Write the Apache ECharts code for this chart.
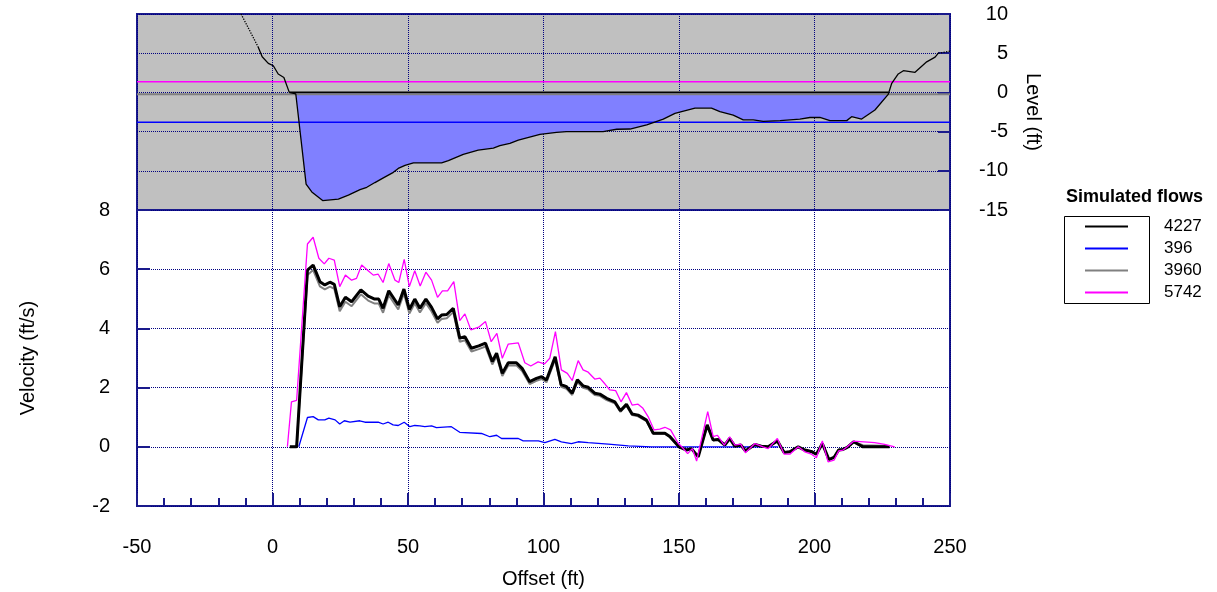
<!DOCTYPE html>
<html>
<head>
<meta charset="utf-8">
<script src="https://cdn.jsdelivr.net/npm/echarts@6/dist/echarts.min.js"></script>
<style>
  html, body { margin: 0; padding: 0; background: #fff; }
  #chart { width: 1217px; height: 592px; }
</style>
</head>
<body>
<div id="chart"></div>
<script>
// simulated flows (legend order)
let flowNames = ["4227", "396", "3960", "5742"];
let flowColors = ["#000000", "#0000ff", "#808080", "#ff00ff"];
// water surface level of each flow (ft)
let waterLevels = [0, -3.8, -0.25, 1.35];
// wetted edges for the 4227 water surface
let wetEdges = [6.2, 227.4];

// ground profile: banks and channel bed
let bankLeftDotX = [-11.6, -5.3];
let bankLeftDotY = [10, 5.8];
let bankLeftX = [-5.3, -3.8, -1.55, 0.3, 2.1, 4.2, 6.2];
let bankLeftY = [5.8, 4.55, 3.7, 3.4, 2.35, 1.9, 0.0];
let bedX = [6.2, 8.6, 12.4, 14.5, 18.5, 24.3, 28.0, 32.3, 34.8, 37.8, 40.9, 44.6, 46.4, 48.9, 52.0, 62.4, 64.9,
    70.4, 75.9, 81.5, 83.9, 87.6, 90.7, 98.7, 104.8, 108.5, 122.0, 127.0, 131.9, 138.1, 144.2, 148.5, 155.9,
    162.0, 165.1, 170.0, 173.7, 177.4, 181.1, 187.3, 194.6, 198.3, 202.0, 205.7, 211.9, 213.7, 217.4, 222.3,
    227.2, 227.4];
let bedY = [0.0, -0.2, -11.7, -12.7, -13.8, -13.6, -13.1, -12.4, -12.1, -11.5, -10.9, -10.2, -9.7, -9.3, -9.0, -9.0, -8.7,
    -7.9, -7.35, -7.1, -6.8, -6.5, -6.1, -5.35, -5.1, -5.0, -5.0, -4.7, -4.67, -4.15, -3.4, -2.67, -2.0,
    -2.0, -2.46, -2.9, -3.5, -3.5, -3.7, -3.6, -3.4, -3.2, -3.2, -3.6, -3.6, -3.1, -3.4, -2.25,
    -0.25, 0.0];
let bankRightX = [227.4, 228.5, 230.9, 232.8, 237.1, 241.4, 244.5, 245.7];
let bankRightY = [0.0, 1.16, 2.35, 2.77, 2.56, 3.9, 4.5, 5.0];
let bankRightDotX = [245.7, 250];
let bankRightDotY = [5.0, 5.25];

// velocities (ft/s)
let offsetMain = [6.4, 8.9, 12.9, 15.0, 17.5, 19.3, 21.2, 22.8, 24.8, 26.9, 29.2, 32.6, 35.3, 37.7, 39.2, 40.8, 42.9,
    46.4, 48.5, 50.5, 52.5, 54.4, 56.6, 58.7, 60.9, 62.4, 64.3, 66.7, 69.1, 71.0, 73.4, 76.1, 78.6, 81.1, 82.7,
    84.8, 87.0, 90.0, 92.1, 94.9, 97.4, 99.3, 101.1, 104.3, 106.5, 108.5, 110.6, 112.5, 114.6, 116.5, 118.9,
    120.8, 123.3, 126.3, 128.4, 130.6, 132.7, 134.9, 138.0, 140.5, 144.8, 146.6, 150.0, 152.8, 154.6, 157.1,
    160.4, 162.6, 164.4, 166.9, 168.7, 170.6, 172.8, 174.5, 178.0, 180.4, 182.9, 186.3, 188.8, 190.9, 194.0,
    196.4, 199.1, 200.7, 202.9, 205.3, 207.2, 208.9, 210.5, 212.1, 214.4, 217.9, 227.7];
let vel4227 = [0, 0, 5.97, 6.14, 5.58, 5.47, 5.56, 5.49, 4.73, 5.05, 4.90, 5.30, 5.09, 4.99, 4.99, 4.68, 5.27,
    4.79, 5.33, 4.64, 4.99, 4.68, 4.99, 4.71, 4.32, 4.45, 4.47, 4.68, 3.67, 3.72, 3.33, 3.41, 3.50, 2.88, 3.16,
    2.48, 2.84, 2.84, 2.65, 2.20, 2.31, 2.37, 2.26, 3.04, 2.10, 2.03, 1.81, 2.26, 2.06, 2.01, 1.81,
    1.78, 1.64, 1.52, 1.22, 1.44, 1.11, 1.07, 0.90, 0.46, 0.46, 0.35, 0.00, -0.11, -0.06, -0.34,
    0.74, 0.23, 0.25, 0.06, 0.28, 0.02, 0.06, -0.14, 0.08, 0.02, 0.00, 0.20, -0.19, -0.17, 0.00,
    -0.11, -0.17, -0.25, 0.11, -0.43, -0.36, -0.11, -0.09, -0.02, 0.17, 0.00, 0.00];
let vel3960 = [0, 0, 5.80, 5.97, 5.42, 5.32, 5.41, 5.34, 4.58, 4.90, 4.75, 5.15, 4.94, 4.84, 4.84, 4.53, 5.12,
    4.64, 5.18, 4.50, 4.85, 4.54, 4.85, 4.57, 4.19, 4.32, 4.34, 4.55, 3.55, 3.60, 3.22, 3.30, 3.39, 2.78, 3.06,
    2.39, 2.75, 2.75, 2.56, 2.12, 2.23, 2.29, 2.18, 2.95, 2.03, 1.96, 1.75, 2.19, 1.99, 1.94, 1.75,
    1.72, 1.58, 1.47, 1.18, 1.39, 1.07, 1.03, 0.87, 0.44, 0.44, 0.33, 0.00, -0.10, -0.05, -0.32,
    0.70, 0.22, 0.24, 0.06, 0.26, 0.02, 0.06, -0.13, 0.08, 0.02, 0.00, 0.19, -0.18, -0.16, 0.00,
    -0.10, -0.16, -0.24, 0.10, -0.41, -0.34, -0.10, -0.08, -0.02, 0.16, 0.05, 0.03];
let offset396 = [9.7, 12.9, 15.0, 16.9, 19.3, 20.8, 23.1, 24.8, 26.5, 28.6, 32.2, 34.1, 39.0, 40.8, 42.7, 44.5,
    46.4, 48.6, 50.7, 52.5, 54.4, 56.2, 58.7, 60.5, 66.0, 69.1, 77.1, 80.2, 82.7, 84.5, 90.7, 92.5, 98.1,
    100.5, 104.2, 106.6, 110.3, 112.8, 116.5, 123.9, 131.3, 139.9, 186.6];
let vel396 = [0, 0.99, 1.02, 0.91, 0.91, 0.97, 0.91, 0.77, 0.88, 0.83, 0.88, 0.83, 0.83, 0.77, 0.83, 0.74,
    0.72, 0.83, 0.68, 0.72, 0.71, 0.68, 0.71, 0.65, 0.68, 0.49, 0.45, 0.34, 0.39, 0.28, 0.28, 0.20, 0.20,
    0.14, 0.25, 0.17, 0.11, 0.17, 0.14, 0.09, 0.03, 0.00, 0.00];
let offset5742 = [5.5, 7.0, 8.9, 12.9, 15.0, 17.1, 19.1, 20.8, 22.8, 24.8, 26.9, 29.2, 31.0, 32.9, 35.3, 37.2,
    39.0, 40.8, 42.9, 45.2, 46.6, 48.6, 50.5, 52.5, 54.5, 56.6, 58.7, 60.9, 62.7, 64.6, 66.9, 69.1, 71.0,
    73.2, 76.1, 78.6, 80.7, 82.8, 84.8, 87.0, 90.7, 93.1, 95.3, 98.0, 100.4, 102.3, 104.4, 106.6, 108.8,
    110.6, 112.8, 114.6, 116.5, 118.9, 120.8, 122.7, 124.5, 126.6, 128.6, 130.6, 132.7, 134.9, 136.7,
    138.6, 140.8, 142.9, 144.8, 146.9, 149.7, 151.0, 153.2, 154.9, 156.5, 160.6, 162.6, 164.2, 166.7,
    168.7, 170.6, 172.8, 174.5, 178.0, 181.0, 182.9, 186.3, 188.8, 190.9, 194.0, 196.4, 198.9, 200.7,
    202.9, 205.0, 207.2, 208.9, 210.5, 212.1, 214.4, 222.2, 225.9, 229.6];
let vel5742 = [0, 1.52, 1.57, 6.85, 7.08, 6.37, 6.18, 6.37, 6.31, 5.41, 5.80, 5.63, 5.69, 6.14, 5.95, 5.80,
    5.83, 5.55, 6.19, 5.63, 5.55, 6.33, 5.41, 5.95, 5.43, 5.90, 5.63, 5.05, 5.27, 5.27, 5.58, 4.26, 4.49,
    3.95, 4.04, 4.23, 3.55, 3.83, 2.99, 3.47, 3.51, 2.84, 2.73, 2.87, 2.80, 2.99, 3.89, 2.60, 2.48,
    2.24, 2.91, 2.60, 2.52, 2.29, 2.32, 2.12, 1.92, 1.90, 1.52, 1.83, 1.41, 1.44, 1.30,
    1.02, 0.57, 0.60, 0.66, 0.57, 0.12, 0.00, -0.23, -0.06, -0.48, 1.19, 0.34, 0.39, 0.06,
    0.34, 0.06, 0.09, -0.20, 0.11, 0.00, -0.06, 0.28, -0.25, -0.25, 0.00, -0.17, -0.25, -0.37,
    0.20, -0.51, -0.45, -0.14, -0.11, 0.00, 0.19, 0.14, 0.08, 0.00];

function zip(xs, ys) {
    return xs.map((x, i) => [x, ys[i]]);
}

let navy = "#1a1a8c";
let font = "'Liberation Sans', Arial, sans-serif";
let gridLine = { show: true, lineStyle: { color: "#000080", type: "dotted", width: 1 } };

let chart = echarts.init(document.getElementById("chart"));

// water surface lines across the section
let levelSeries = waterLevels.map((lv, i) => {
    let xs = i === 0 ? wetEdges : [-50, 250];
    return {
        type: "line",
        xAxisIndex: 0, yAxisIndex: 0,
        data: zip(xs, [lv, lv]),
        symbol: "none",
        silent: true,
        lineStyle: { color: flowColors[i], width: i === 1 || i === 3 ? 1.5 : 2 },
        z: 3
    };
});

let velData = [zip(offsetMain, vel4227), zip(offset396, vel396), zip(offsetMain, vel3960), zip(offset5742, vel5742)];
let velWidths = [3, 1.3, 2, 1.3];
let velSeries = [];
// draw order: blue, gray, black, magenta
[1, 2, 0, 3].forEach(i => {
    velSeries.push({
        name: flowNames[i],
        type: "line",
        xAxisIndex: 1, yAxisIndex: 1,
        data: velData[i],
        symbol: "none",
        lineStyle: { color: flowColors[i], width: velWidths[i] },
        itemStyle: { color: flowColors[i] },
        z: 4
    });
});

let option = {
    animation: false,
    textStyle: { fontFamily: font },
    title: {
        text: "Simulated flows",
        left: 1066,
        top: 188,
        padding: 0,
        textStyle: { fontFamily: font, fontSize: 18, fontWeight: "bold", color: "#000" }
    },
    legend: {
        data: flowNames,
        orient: "vertical",
        left: 1084,
        top: 218,
        padding: 0,
        itemWidth: 43,
        itemHeight: 14,
        itemGap: 5,
        selectedMode: false,
        // hide the marker circle, keep only the line
        itemStyle: { color: "rgba(0,0,0,0)", borderColor: "rgba(0,0,0,0)", borderWidth: 0 },
        textStyle: { fontFamily: font, fontSize: 17, color: "#000", padding: [0, 0, 0, 31] }
    },
    graphic: [{
        type: "rect",
        left: 1062, top: 214,
        shape: { width: 85, height: 87 },
        style: { fill: "none", stroke: "#000", lineWidth: 1 },
        z: -1
    }],
    grid: [
        { left: 137, right: 267, top: 14, height: 196, show: true, backgroundColor: "#c0c0c0", borderColor: navy, borderWidth: 2 },
        { left: 137, right: 267, top: 210, height: 296, show: true, backgroundColor: "#fff", borderColor: navy, borderWidth: 2 }
    ],
    xAxis: [
        {
            gridIndex: 0, type: "value", min: -50, max: 250, interval: 50,
            axisLine: { show: false, onZero: false }, axisTick: { show: false }, axisLabel: { show: false },
            splitLine: gridLine
        },
        {
            gridIndex: 1, type: "value", min: -50, max: 250, interval: 50,
            axisLine: { show: false, onZero: false },
            axisTick: { show: true, inside: true, length: 13, lineStyle: { color: navy, width: 2 } },
            minorTick: { show: true, splitNumber: 5, length: 8, lineStyle: { color: navy, width: 2 } },
            axisLabel: { color: "#000", fontSize: 20, fontFamily: font, margin: 31 },
            splitLine: gridLine,
            name: "Offset (ft)", nameLocation: "middle", nameGap: 63,
            nameTextStyle: { color: "#000", fontSize: 20, fontFamily: font }
        }
    ],
    yAxis: [
        {
            gridIndex: 0, type: "value", position: "right", min: -15, max: 10, interval: 5,
            axisLine: { show: false, onZero: false },
            axisTick: { show: true, inside: true, length: 12, lineStyle: { color: navy, width: 2 } },
            axisLabel: { color: "#000", fontSize: 20, fontFamily: font, align: "right", margin: 58 },
            splitLine: gridLine,
            name: "Level (ft)", nameLocation: "middle", nameRotate: -90, nameGap: 73,
            nameTextStyle: { color: "#000", fontSize: 20, fontFamily: font }
        },
        {
            gridIndex: 1, type: "value", min: -2, max: 8, interval: 2,
            axisLine: { show: false, onZero: false },
            axisTick: { show: true, inside: true, length: 13, lineStyle: { color: navy, width: 2 } },
            axisLabel: { color: "#000", fontSize: 20, fontFamily: font, margin: 27 },
            splitLine: gridLine,
            name: "Velocity (ft/s)", nameLocation: "middle", nameRotate: 90, nameGap: 99,
            nameTextStyle: { color: "#000", fontSize: 20, fontFamily: font }
        }
    ],
    series: [
        {
            // wetted area under the water surface
            type: "line",
            xAxisIndex: 0, yAxisIndex: 0,
            data: zip(bedX, bedY),
            symbol: "none",
            silent: true,
            lineStyle: { width: 0 },
            areaStyle: { color: "#8080ff", opacity: 1, origin: 0 },
            z: 2
        }
    ].concat(levelSeries).concat([
        {
            type: "line",
            xAxisIndex: 0, yAxisIndex: 0,
            data: zip(bankLeftX, bankLeftY).concat(zip(bedX, bedY)).concat(zip(bankRightX, bankRightY)),
            symbol: "none",
            silent: true,
            lineStyle: { color: "#000", width: 1.3 },
            z: 5
        },
        {
            type: "line",
            xAxisIndex: 0, yAxisIndex: 0,
            data: zip(bankLeftDotX, bankLeftDotY),
            symbol: "none",
            silent: true,
            lineStyle: { color: "#000", width: 1.3, type: "dotted" },
            z: 5
        },
        {
            type: "line",
            xAxisIndex: 0, yAxisIndex: 0,
            data: zip(bankRightDotX, bankRightDotY),
            symbol: "none",
            silent: true,
            lineStyle: { color: "#000", width: 1.3, type: "dotted" },
            z: 5
        }
    ]).concat(velSeries)
};

chart.setOption(option);
</script>
</body>
</html>
